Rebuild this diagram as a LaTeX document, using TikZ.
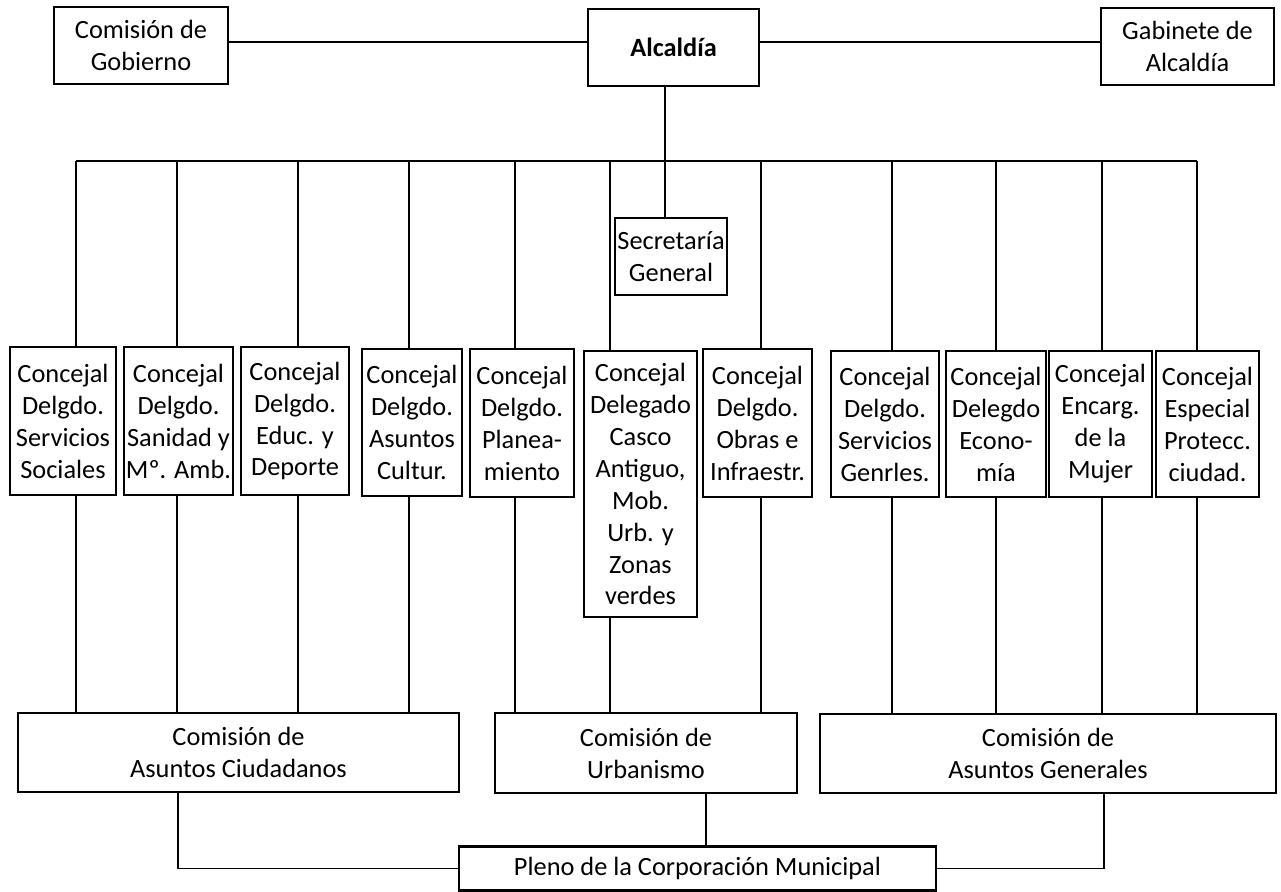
\documentclass[tikz,border=0pt]{standalone}
\usepackage{fontspec}
\setmainfont{Carlito}
\usetikzlibrary{calc}

\begin{document}
\begin{tikzpicture}[x=0.02cm,y=-0.02cm,
    caja/.style={draw,line width=1.2pt,fill=white,align=center,inner sep=0pt,
      font=\fontsize{15}{18.2}\selectfont},
    enlace/.style={line width=0.6pt}]
    \def\pxl{0.02cm} % one pixel of the page
    \useasboundingbox (0,0) rectangle (1281,892);

    % Draw the top row
    \node[caja,minimum width=174*\pxl,minimum height=77*\pxl] (gob) at (141,45.5) {Comisión de\\Gobierno};
    \node[caja,minimum width=171*\pxl,minimum height=77*\pxl,font=\fontsize{15}{18.2}\selectfont\bfseries] (alc) at (673.5,47.5) {Alcaldía};
    \node[caja,minimum width=173*\pxl,minimum height=77*\pxl] (gab) at (1187.5,46.5) {Gabinete de\\Alcaldía};
    \node[caja,minimum width=112*\pxl,minimum height=77*\pxl] (sec) at (671,256.5) {Secretaría\\General};

    % Draw the concejales
    \node[caja,minimum width=106*\pxl,minimum height=148*\pxl] (c1) at (63,421) {Concejal\\Delgdo.\\Servicios\\Sociales};
    \node[caja,minimum width=109*\pxl,minimum height=148*\pxl] (c2) at (178.5,421) {Concejal\\Delgdo.\\Sanidad y\\Mº. Amb.};
    \node[caja,minimum width=108*\pxl,minimum height=148*\pxl] (c3) at (295,421) {Concejal\\Delgdo.\\Educ. y\\Deporte};
    \node[caja,minimum width=100*\pxl,minimum height=147*\pxl] (c4) at (412,422.5) {Concejal\\Delgdo.\\Asuntos\\Cultur.};
    \node[caja,minimum width=104*\pxl,minimum height=148*\pxl] (c5) at (522,423) {Concejal\\Delgdo.\\Planea-\\miento};
    \node[caja,minimum width=113*\pxl,minimum height=266*\pxl] (c6) at (640.5,484) {Concejal\\Delegado\\Casco\\Antiguo,\\Mob.\\Urb. y\\Zonas\\verdes};
    \node[caja,minimum width=109*\pxl,minimum height=148*\pxl] (c7) at (757.5,423) {Concejal\\Delgdo.\\Obras e\\Infraestr.};
    \node[caja,minimum width=108*\pxl,minimum height=146*\pxl] (c8) at (885,424) {Concejal\\Delgdo.\\Servicios\\Genrles.};
    \node[caja,minimum width=100*\pxl,minimum height=146*\pxl] (c9) at (996,424) {Concejal\\Delegdo\\Econo-\\mía};
    \node[caja,minimum width=103*\pxl,minimum height=146*\pxl] (c10) at (1100.5,424) {Concejal\\Encarg.\\de la\\Mujer};
    \node[caja,minimum width=103*\pxl,minimum height=146*\pxl] (c11) at (1207.5,424) {Concejal\\Especial\\Protecc.\\ciudad.};

    % Draw the comisiones and the pleno
    \node[caja,minimum width=441*\pxl,minimum height=79*\pxl] (ciu) at (238.5,752.5) {Comisión de\\Asuntos Ciudadanos};
    \node[caja,minimum width=302*\pxl,minimum height=80*\pxl] (urb) at (646,753) {Comisión de\\Urbanismo};
    \node[caja,minimum width=456*\pxl,minimum height=79*\pxl] (gen) at (1048,753.5) {Comisión de\\Asuntos Generales};
    \node[caja,minimum width=477*\pxl,minimum height=44*\pxl] (ple) at (697.5,868.5) {Pleno de la Corporación Municipal};

    % Bus under the alcaldía
    \coordinate (h0) at (0,42);
    \coordinate (a0) at (665,161);
    \coordinate (t1) at (76,161);
    \coordinate (t2) at (177,161);
    \coordinate (t3) at (298,161);
    \coordinate (t4) at (409,161);
    \coordinate (t5) at (515,161);
    \coordinate (t6) at (610,161);
    \coordinate (t7) at (761,161);
    \coordinate (t8) at (892,161);
    \coordinate (t9) at (996,161);
    \coordinate (t10) at (1102,161);
    \coordinate (t11) at (1197,161);

    % Draw the links
    \draw[enlace] (gob.east |- h0) -- (alc.west |- h0);
    \draw[enlace] (alc.east |- h0) -- (gab.west |- h0);
    \draw[enlace] (a0 |- alc.south) -- (a0 |- sec.north);
    \draw[enlace] (t1) -- (t11);
    \foreach \i/\k in {1/ciu,2/ciu,3/ciu,4/ciu,5/urb,6/urb,7/urb,8/gen,9/gen,10/gen,11/gen}{
        \draw[enlace] (t\i) -- (t\i |- c\i.north);
        \draw[enlace] (t\i |- c\i.south) -- (t\i |- \k.north);
    }

    % Links to the pleno
    \coordinate (p1) at (178,0);
    \coordinate (p2) at (706,0);
    \coordinate (p3) at (1104,0);
    \draw[enlace] (p1 |- ciu.south) |- (ple.west);
    \draw[enlace] (p2 |- urb.south) -- (p2 |- ple.north);
    \draw[enlace] (p3 |- gen.south) |- (ple.east);
\end{tikzpicture}
\end{document}
